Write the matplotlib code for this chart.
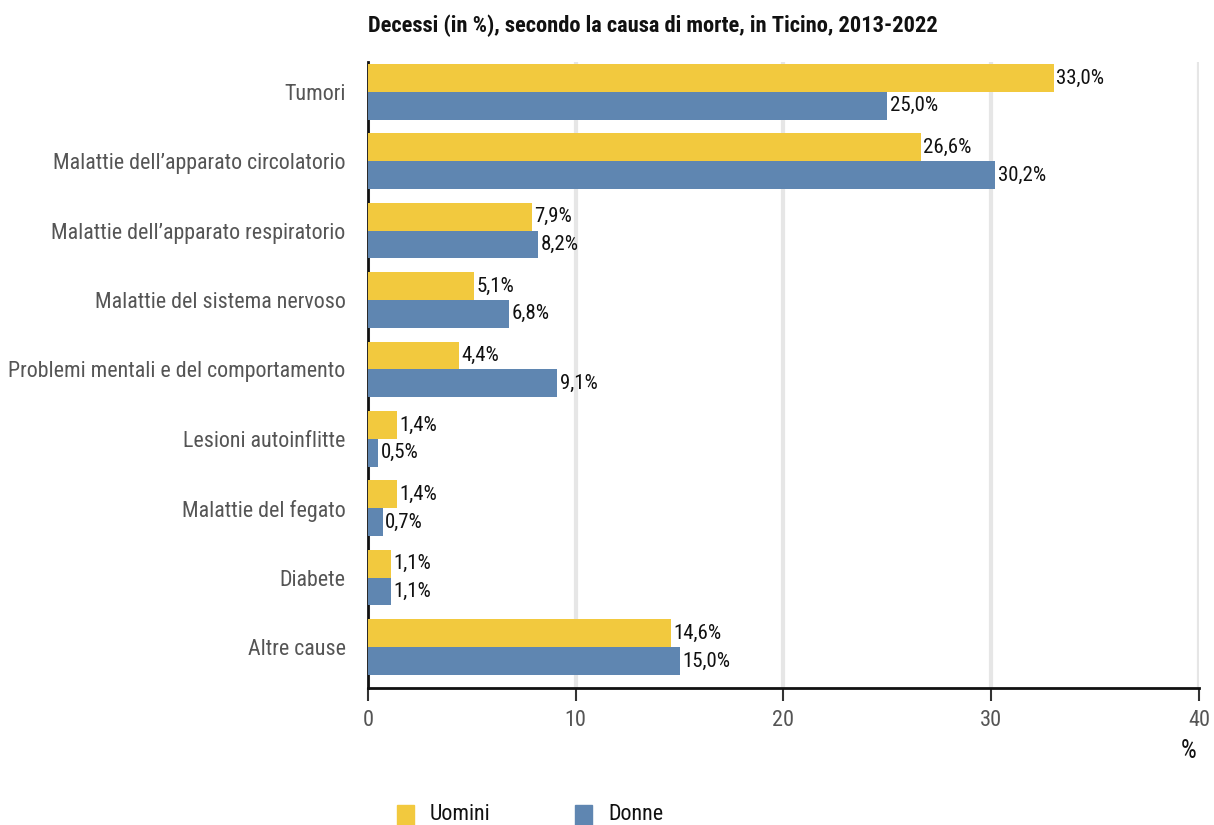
import matplotlib
matplotlib.use("Agg")
import matplotlib.pyplot as plt
import numpy as np

plt.rcParams['font.family'] = ['Roboto Condensed', 'DejaVu Sans']

categories = [
    "Tumori",
    "Malattie dell\u2019apparato circolatorio",
    "Malattie dell\u2019apparato respiratorio",
    "Malattie del sistema nervoso",
    "Problemi mentali e del comportamento",
    "Lesioni autoinflitte",
    "Malattie del fegato",
    "Diabete",
    "Altre cause",
]
uomini = [33.0, 26.6, 7.9, 5.1, 4.4, 1.4, 1.4, 1.1, 14.6]
donne = [25.0, 30.2, 8.2, 6.8, 9.1, 0.5, 0.7, 1.1, 15.0]
series_names = ["Uomini", "Donne"]
xticks = [0, 10, 20, 30, 40]

YELLOW = "#F2C93E"
BLUE = "#5F86B1"

fig = plt.figure(figsize=(12.14, 8.25), dpi=100)
ax = fig.add_axes([0.3031, 0.1661, 0.6845, 0.7588])

y = np.arange(len(categories))
h = 0.4
b1 = ax.barh(y - h / 2, uomini, height=h, color=YELLOW, zorder=3)
b2 = ax.barh(y + h / 2, donne, height=h, color=BLUE, zorder=3)

def fmt(v):
    return f"{v:.1f}".replace(".", ",") + "%"

for bars, vals in ((b1, uomini), (b2, donne)):
    for rect, v in zip(bars, vals):
        ax.text(v + 0.12, rect.get_y() + rect.get_height() / 2, fmt(v),
                va="center", ha="left", fontsize=15, color="#111111", zorder=4)

ax.set_xlim(0, 40)
ax.set_ylim(8.59, -0.43)
ax.set_yticks(y)
ax.set_yticklabels(categories, fontsize=15.8, color="#555555")
ax.tick_params(axis="y", length=0, pad=16)
ax.set_xticks(xticks)
ax.set_xticklabels([str(t) for t in xticks], fontsize=16, color="#555555")
ax.tick_params(axis="x", length=9, width=1.5, color="#333333", pad=7)

for s in ("top", "right"):
    ax.spines[s].set_visible(False)
ax.spines["left"].set_linewidth(2)
ax.spines["bottom"].set_linewidth(2)
ax.spines["left"].set_color("#111111")
ax.spines["bottom"].set_color("#111111")

ax.xaxis.grid(True, color="#e6e6e6", linewidth=3, zorder=0)
ax.set_axisbelow(True)

fig.text(368 / 1214, 1 - 26 / 825, "Decessi (in %), secondo la causa di morte, in Ticino, 2013-2022",
         fontsize=16.2, fontweight="bold", color="#111111", ha="left", va="center")
fig.text(1189 / 1214, 1 - 751 / 825, "%", fontsize=18, color="#111111", ha="center", va="center")

# legend
for x0, col, name in ((397, YELLOW, series_names[0]), (575, BLUE, series_names[1])):
    fig.patches.append(plt.Rectangle((x0 / 1214, 0), 17 / 1214, 20 / 825,
                                     transform=fig.transFigure, color=col))
    fig.text((x0 + 33) / 1214, 1 - 815 / 825, name, fontsize=15.8, color="#111111",
             ha="left", va="center")

fig.savefig("out.png", dpi=100)
